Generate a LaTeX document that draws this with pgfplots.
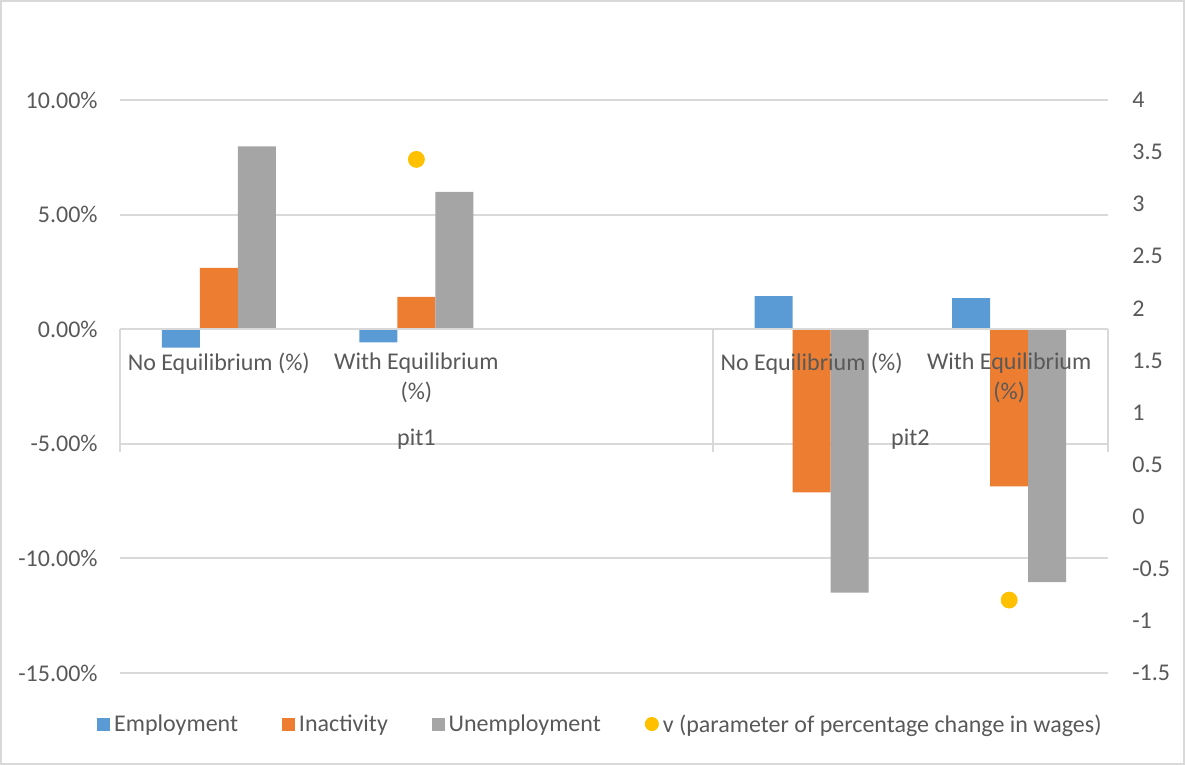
\documentclass[border=0pt]{standalone}
\usepackage{pgfplots}
\pgfplotsset{compat=1.18}
\usepackage{fontspec}
\setmainfont{Carlito}

\definecolor{empcol}{HTML}{5B9BD5}
\definecolor{inacol}{HTML}{ED7D31}
\definecolor{unecol}{HTML}{A5A5A5}
\definecolor{vcol}{HTML}{FFC000}
\definecolor{gridcol}{HTML}{D9D9D9}
\definecolor{txtcol}{HTML}{595959}

\newcommand{\chartfont}{\fontsize{12}{15}\selectfont}

\begin{document}
\begin{tikzpicture}
\useasboundingbox (-60pt,-46pt) rectangle (532.5pt,336.5pt);
\draw[gridcol, line width=1pt] (-59.5pt,-45.5pt) rectangle (532pt,336pt);

% bars, percentage scale on the left
\begin{axis}[
  name=main, at={(0pt,0pt)}, anchor=south west,
  scale only axis, width=494pt, height=286.5pt,
  xmin=-0.5, xmax=4.5, ymin=-15, ymax=10,
  xtick=\empty,
  ytick={-15,-10,-5,0,5,10},
  yticklabel={\pgfmathprintnumber[fixed,fixed zerofill,precision=2]{\tick}\%},
  /pgf/number format/assume math mode=true,
  yticklabel style={font=\chartfont, text=txtcol, inner sep=0pt, anchor=east, xshift=-11pt},
  major tick length=0pt,
  axis line style={draw=none},
  ymajorgrids, grid style={gridcol, line width=1pt},
  ybar=0pt, bar width=19pt,
  clip=false,
]
\addplot[fill=empcol, draw=none] coordinates {(0,-0.80) (1,-0.58) (3,1.44) (4,1.36)};
\addplot[fill=inacol, draw=none] coordinates {(0,2.67) (1,1.41) (3,-7.12) (4,-6.86)};
\addplot[fill=unecol, draw=none] coordinates {(0,7.98) (1,5.99) (3,-11.49) (4,-11.04)};

% horizontal axis line and category dividers
\draw[gridcol, line width=1pt] (axis cs:-0.5,0) -- (axis cs:4.5,0);
\draw[gridcol, line width=1pt] (axis cs:-0.5,0) -- (axis cs:-0.5,-5.36);
\draw[gridcol, line width=1pt] (axis cs:2.5,0) -- (axis cs:2.5,-5.36);
\draw[gridcol, line width=1pt] (axis cs:4.5,0) -- (axis cs:4.5,-5.36);

% category labels
\node[font=\chartfont, text=txtcol, yshift=-17pt] at (axis cs:0,0) {No Equilibrium (\%)};
\node[font=\chartfont, text=txtcol, yshift=-24.5pt, align=center] at (axis cs:1,0) {With Equilibrium\\(\%)};
\node[font=\chartfont, text=txtcol, yshift=-17pt] at (axis cs:3,0) {No Equilibrium (\%)};
\node[font=\chartfont, text=txtcol, yshift=-24.5pt, align=center] at (axis cs:4,0) {With Equilibrium\\(\%)};
\node[font=\chartfont, text=txtcol, yshift=-55pt] at (axis cs:1,0) {pit1};
\node[font=\chartfont, text=txtcol, yshift=-55pt] at (axis cs:3.5,0) {pit2};
\end{axis}

% wage parameter, scale on the right
\begin{axis}[
  at={(0pt,0pt)}, anchor=south west,
  scale only axis, width=494pt, height=286.5pt,
  xmin=-0.5, xmax=4.5, ymin=-1.5, ymax=4,
  axis y line*=right, hide x axis,
  ytick={-1.5,-1,-0.5,0,0.5,1,1.5,2,2.5,3,3.5,4},
  /pgf/number format/assume math mode=true,
  yticklabel style={font=\chartfont, text=txtcol, inner sep=0pt, anchor=west, xshift=12pt},
  major tick length=0pt,
  axis line style={draw=none},
  clip=false,
  legend columns=4,
  legend style={at={(0.4873,-0.0908)}, anchor=center, draw=none, fill=none,
    font=\chartfont, text=txtcol, inner sep=0pt,
    /tikz/every even column/.append style={column sep=20pt}},
  legend cell align=left,
]
\addlegendimage{legend image code/.code={\fill[empcol] (0pt,-2.5pt) rectangle (6pt,3.5pt);}}
\addlegendentry{Employment}
\addlegendimage{legend image code/.code={\fill[inacol] (0pt,-2.5pt) rectangle (6pt,3.5pt);}}
\addlegendentry{Inactivity}
\addlegendimage{legend image code/.code={\fill[unecol] (0pt,-2.5pt) rectangle (6pt,3.5pt);}}
\addlegendentry{Unemployment}
\addlegendimage{legend image code/.code={\fill[vcol] (3.3pt,0.5pt) circle (3.3pt);}}
\addlegendentry{v (parameter of percentage change in wages)}
\addplot[forget plot, only marks, mark=*, mark size=4pt, mark options={draw=vcol, fill=vcol}]
  coordinates {(1,3.43) (4,-0.80)};
\end{axis}
\end{tikzpicture}
\end{document}
